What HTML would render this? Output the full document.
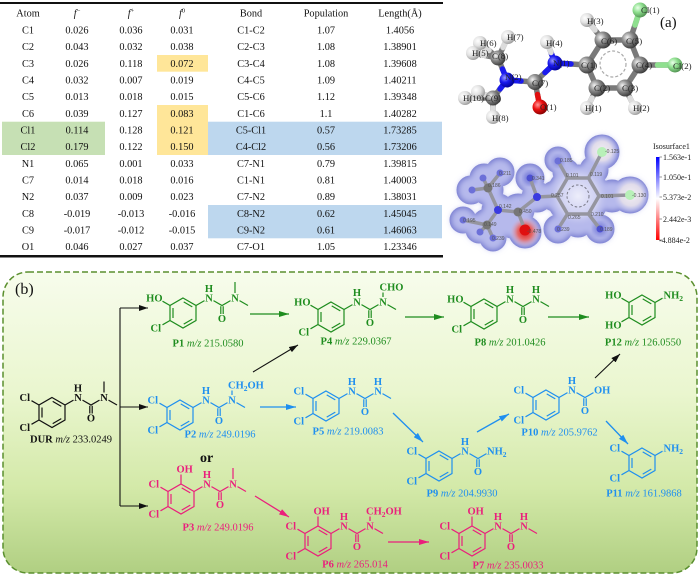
<!DOCTYPE html>
<html><head><meta charset="utf-8">
<style>
html,body{margin:0;padding:0;background:#fff;}
svg{display:block;}
.t text{font-family:"Liberation Serif",serif;font-size:10.3px;fill:#111;}
.mol text{font-family:"Liberation Serif",serif;font-size:10.5px;font-weight:bold;stroke:none;}
.cap{font-family:"Liberation Serif",serif;font-size:10.5px;}
.lab text{font-family:"Liberation Serif",serif;font-size:8.8px;fill:#222;}
.num text{font-family:"Liberation Sans",sans-serif;font-size:5px;fill:#555;}
.cb text{font-family:"Liberation Serif",serif;font-size:8px;fill:#222;}
</style></head><body>
<svg width="700" height="576" viewBox="0 0 700 576" xmlns="http://www.w3.org/2000/svg">
<defs>
<path id="ringp" fill="none" d="M-13,-7.5L0,0L0,15L-13,22.5L-26,15L-26,0Z M-23,2.5V12.5 M-12.3,18.6L-3.7,13.6 M-12.3,-3.6L-3.7,1.4"/>
<path id="ureap" fill="none" d="M0,0L8.5,-4.9 M17.5,-4.9L26,0L34.5,-4.9 M24.8,0.8V8.5 M27.2,0.8V8.5"/>
<marker id="ak" markerWidth="9" markerHeight="6" refX="9" refY="3" orient="auto" markerUnits="userSpaceOnUse"><path d="M0,0L9,3L0,6Z" fill="#111"/></marker>
<marker id="ag" markerWidth="10" markerHeight="6" refX="10" refY="3" orient="auto" markerUnits="userSpaceOnUse"><path d="M0,0L10,3L0,6Z" fill="#1e8c1e"/></marker>
<marker id="ab" markerWidth="10" markerHeight="6" refX="10" refY="3" orient="auto" markerUnits="userSpaceOnUse"><path d="M0,0L10,3L0,6Z" fill="#1f8fef"/></marker>
<marker id="ap" markerWidth="10" markerHeight="6" refX="10" refY="3" orient="auto" markerUnits="userSpaceOnUse"><path d="M0,0L10,3L0,6Z" fill="#ea1f7c"/></marker>
<linearGradient id="bg" x1="0" y1="0" x2="0" y2="1">
<stop offset="0" stop-color="#f7fcec"/><stop offset="0.4" stop-color="#eaf6cf"/><stop offset="0.72" stop-color="#d3e9a8"/><stop offset="1" stop-color="#b0cf82"/>
</linearGradient>
<radialGradient id="gC" cx="0.35" cy="0.35" r="0.7"><stop offset="0" stop-color="#f4f4f4"/><stop offset="0.45" stop-color="#8c8c8c"/><stop offset="1" stop-color="#383838"/></radialGradient>
<radialGradient id="gH" cx="0.35" cy="0.35" r="0.7"><stop offset="0" stop-color="#ffffff"/><stop offset="0.5" stop-color="#e2e2e2"/><stop offset="1" stop-color="#9a9a9a"/></radialGradient>
<radialGradient id="gN" cx="0.35" cy="0.35" r="0.7"><stop offset="0" stop-color="#9a9aff"/><stop offset="0.45" stop-color="#1a1aee"/><stop offset="1" stop-color="#000090"/></radialGradient>
<radialGradient id="gO" cx="0.35" cy="0.35" r="0.7"><stop offset="0" stop-color="#ff9a9a"/><stop offset="0.45" stop-color="#ee1010"/><stop offset="1" stop-color="#800000"/></radialGradient>
<radialGradient id="gCl" cx="0.35" cy="0.35" r="0.7"><stop offset="0" stop-color="#eaffea"/><stop offset="0.45" stop-color="#90e090"/><stop offset="1" stop-color="#4f8f4f"/></radialGradient>
<radialGradient id="wl"><stop offset="0" stop-color="#f3eff3"/><stop offset="0.6" stop-color="#e6e0ea" stop-opacity="0.9"/><stop offset="1" stop-color="#c0c2ee" stop-opacity="0"/></radialGradient>
<radialGradient id="wc"><stop offset="0" stop-color="#ffffff" stop-opacity="0.75"/><stop offset="0.7" stop-color="#e8e8f8" stop-opacity="0.45"/><stop offset="1" stop-color="#c0c2ee" stop-opacity="0"/></radialGradient>
<radialGradient id="rl"><stop offset="0" stop-color="#e01818"/><stop offset="0.5" stop-color="#e46a6a"/><stop offset="1" stop-color="#d8b0d0" stop-opacity="0"/></radialGradient>
<linearGradient id="cbar" x1="0" y1="0" x2="0" y2="1"><stop offset="0" stop-color="#0000ff"/><stop offset="0.5" stop-color="#ffffff"/><stop offset="1" stop-color="#ff0000"/></linearGradient>
<filter id="bl" x="-10%" y="-10%" width="120%" height="120%"><feGaussianBlur stdDeviation="3"/></filter>
<filter id="bl2" x="-10%" y="-10%" width="120%" height="120%"><feGaussianBlur stdDeviation="2"/></filter>
<g id="blob">
<circle cx="500" cy="172" r="13"/><circle cx="484" cy="178" r="13"/><circle cx="471" cy="190" r="13"/><circle cx="488" cy="190" r="14"/><circle cx="498" cy="210" r="15"/><circle cx="518" cy="210" r="15"/><circle cx="537" cy="197" r="14"/><circle cx="530" cy="178" r="13"/><circle cx="487" cy="224" r="14"/><circle cx="463" cy="220" r="12"/><circle cx="479" cy="230" r="12"/><circle cx="493" cy="238" r="12"/><circle cx="512" cy="225" r="12"/><circle cx="525" cy="232" r="15"/>
<circle cx="578" cy="196" r="30"/><circle cx="558" cy="160" r="12"/><circle cx="566" cy="172" r="12"/><circle cx="602" cy="152" r="16"/><circle cx="594" cy="170" r="13"/><circle cx="630" cy="195" r="17"/><circle cx="612" cy="196" r="15"/><circle cx="558" cy="229" r="13"/><circle cx="600" cy="229" r="13"/><circle cx="578" cy="222" r="14"/><circle cx="555" cy="196" r="14"/>
</g>
</defs>

<!-- TABLE -->
<rect x="2" y="121.7" width="103" height="33.3" fill="#c6e0b4"/>
<rect x="157" y="55" width="51" height="16.7" fill="#ffe699"/>
<rect x="157" y="105" width="51" height="50" fill="#ffe699"/>
<rect x="208" y="121.7" width="234" height="33.3" fill="#bdd7ee"/>
<rect x="208" y="205" width="234" height="33.3" fill="#bdd7ee"/>
<rect x="0" y="2" width="443" height="2" fill="#111"/>
<rect x="0" y="255" width="443" height="2.5" fill="#111"/>
<g class="t" text-anchor="middle">
<g transform="translate(0,16.5)"><text x="28">Atom</text><text x="77"><tspan font-style="italic">f</tspan><tspan font-size="6.5" dy="-4">−</tspan></text><text x="131"><tspan font-style="italic">f</tspan><tspan font-size="6.5" dy="-4">+</tspan></text><text x="182"><tspan font-style="italic">f</tspan><tspan font-size="6.5" dy="-4">0</tspan></text><text x="251">Bond</text><text x="326">Population</text><text x="400">Length(Å)</text></g>
<g transform="translate(0,33.5)"><text x="28">C1</text><text x="77">0.026</text><text x="131">0.036</text><text x="182">0.031</text><text x="251">C1-C2</text><text x="326">1.07</text><text x="400">1.4056</text></g>
<g transform="translate(0,50.2)"><text x="28">C2</text><text x="77">0.043</text><text x="131">0.032</text><text x="182">0.038</text><text x="251">C2-C3</text><text x="326">1.08</text><text x="400">1.38901</text></g>
<g transform="translate(0,66.8)"><text x="28">C3</text><text x="77">0.026</text><text x="131">0.118</text><text x="182">0.072</text><text x="251">C3-C4</text><text x="326">1.08</text><text x="400">1.39608</text></g>
<g transform="translate(0,83.5)"><text x="28">C4</text><text x="77">0.032</text><text x="131">0.007</text><text x="182">0.019</text><text x="251">C4-C5</text><text x="326">1.09</text><text x="400">1.40211</text></g>
<g transform="translate(0,100.2)"><text x="28">C5</text><text x="77">0.013</text><text x="131">0.018</text><text x="182">0.015</text><text x="251">C5-C6</text><text x="326">1.12</text><text x="400">1.39348</text></g>
<g transform="translate(0,116.8)"><text x="28">C6</text><text x="77">0.039</text><text x="131">0.127</text><text x="182">0.083</text><text x="251">C1-C6</text><text x="326">1.1</text><text x="400">1.40282</text></g>
<g transform="translate(0,133.5)"><text x="28">Cl1</text><text x="77">0.114</text><text x="131">0.128</text><text x="182">0.121</text><text x="251">C5-Cl1</text><text x="326">0.57</text><text x="400">1.73285</text></g>
<g transform="translate(0,150.2)"><text x="28">Cl2</text><text x="77">0.179</text><text x="131">0.122</text><text x="182">0.150</text><text x="251">C4-Cl2</text><text x="326">0.56</text><text x="400">1.73206</text></g>
<g transform="translate(0,166.8)"><text x="28">N1</text><text x="77">0.065</text><text x="131">0.001</text><text x="182">0.033</text><text x="251">C7-N1</text><text x="326">0.79</text><text x="400">1.39815</text></g>
<g transform="translate(0,183.5)"><text x="28">C7</text><text x="77">0.014</text><text x="131">0.018</text><text x="182">0.016</text><text x="251">C1-N1</text><text x="326">0.81</text><text x="400">1.40003</text></g>
<g transform="translate(0,200.2)"><text x="28">N2</text><text x="77">0.037</text><text x="131">0.009</text><text x="182">0.023</text><text x="251">C7-N2</text><text x="326">0.89</text><text x="400">1.38031</text></g>
<g transform="translate(0,216.8)"><text x="28">C8</text><text x="77">-0.019</text><text x="131">-0.013</text><text x="182">-0.016</text><text x="251">C8-N2</text><text x="326">0.62</text><text x="400">1.45045</text></g>
<g transform="translate(0,233.5)"><text x="28">C9</text><text x="77">-0.017</text><text x="131">-0.012</text><text x="182">-0.015</text><text x="251">C9-N2</text><text x="326">0.61</text><text x="400">1.46063</text></g>
<g transform="translate(0,250.2)"><text x="28">O1</text><text x="77">0.046</text><text x="131">0.027</text><text x="182">0.037</text><text x="251">C7-O1</text><text x="326">1.05</text><text x="400">1.23346</text></g>
</g>

<!-- 3D BALL & STICK -->
<g stroke-linecap="round" fill="none" stroke-width="5.5">
<path stroke="#7a7a7a" d="M603,40L630,40L640,65L625,88L597,88L587,65Z M630,40L640,10 M640,65L675,65 M603,40L587,20 M597,88L587,108 M625,88L635,108 M587,65L555,63 M555,63L547,42 M555,63L535,82 M535,82L540,107 M535,82L507,80 M507,80L498,58 M507,80L493,98 M498,58L480,43 M498,58L508,37 M498,58L473,53 M493,98L465,98 M493,98L493,117 M493,98L478,92"/>
<path stroke="#8fe08f" d="M635,25L640,10 M657.5,65L675,65"/>
<path stroke="#1a1aee" d="M571,64L555,63L551,52.5 M555,63L545,72.5 M521,81L507,80L502.5,69 M507,80L500,89"/>
<path stroke="#e01010" d="M537.5,94.5L540,107"/>
<path stroke="#dcdcdc" d="M595,30L587,20 M592,98L587,108 M630,98L635,108 M551,52.5L547,42 M489,50.5L480,43 M503,47.5L508,37 M485.5,55.5L473,53 M479,98L465,98 M493,107.5L493,117 M485.5,95L478,92"/>
</g>
<circle cx="613" cy="64" r="13" fill="none" stroke="#aaa" stroke-width="1.2" stroke-dasharray="3,2"/>
<g>
<circle cx="478" cy="92" r="7" fill="url(#gH)"/>
<circle cx="480" cy="43" r="7" fill="url(#gH)"/><circle cx="508" cy="37" r="7" fill="url(#gH)"/><circle cx="473" cy="53" r="7" fill="url(#gH)"/>
<circle cx="465" cy="98" r="7" fill="url(#gH)"/><circle cx="493" cy="117" r="7" fill="url(#gH)"/>
<circle cx="587" cy="20" r="7" fill="url(#gH)"/><circle cx="587" cy="108" r="7" fill="url(#gH)"/><circle cx="635" cy="108" r="7" fill="url(#gH)"/><circle cx="547" cy="42" r="7" fill="url(#gH)"/>
<circle cx="498" cy="58" r="7.5" fill="url(#gC)"/><circle cx="493" cy="98" r="7.5" fill="url(#gC)"/>
<circle cx="507" cy="80" r="7.5" fill="url(#gN)"/><circle cx="535" cy="82" r="8" fill="url(#gC)"/>
<circle cx="540" cy="107" r="7.5" fill="url(#gO)"/><circle cx="555" cy="63" r="7.5" fill="url(#gN)"/>
<circle cx="603" cy="40" r="8.5" fill="url(#gC)"/><circle cx="630" cy="40" r="8.5" fill="url(#gC)"/><circle cx="640" cy="65" r="8.5" fill="url(#gC)"/><circle cx="625" cy="88" r="8.5" fill="url(#gC)"/><circle cx="597" cy="88" r="8.5" fill="url(#gC)"/><circle cx="587" cy="65" r="8.5" fill="url(#gC)"/>
<circle cx="640" cy="10" r="7.5" fill="url(#gCl)"/><circle cx="675" cy="65" r="7.5" fill="url(#gCl)"/>
</g>
<g class="lab">
<text x="641" y="13">Cl(1)</text><text x="587" y="24">H(3)</text><text x="601" y="44">C(6)</text><text x="626" y="44">C(5)</text>
<text x="546" y="46">H(4)</text><text x="553" y="66">N(1)</text><text x="581" y="68">C(1)</text><text x="636" y="68">C(4)</text><text x="673" y="69">Cl(2)</text>
<text x="480" y="46">H(6)</text><text x="507" y="40">H(7)</text><text x="472" y="56">H(5)</text><text x="492" y="59">C(8)</text>
<text x="505" y="80">N(2)</text><text x="532" y="86">C(7)</text><text x="463" y="101">H(10)</text><text x="485" y="101">C(9)</text>
<text x="540" y="110">O(1)</text><text x="594" y="91">C(2)</text><text x="622" y="91">C(3)</text><text x="585" y="111">H(1)</text><text x="633" y="111">H(2)</text><text x="492" y="121">H(8)</text>
</g>
<text x="660" y="27" font-family="Liberation Serif, serif" font-size="15" fill="#111">(a)</text>

<!-- ESP MAP -->
<use href="#blob" fill="#6f74cc" stroke="#6f74cc" stroke-width="3"/>
<use href="#blob" fill="#b6b9ec" filter="url(#bl)"/>
<circle cx="578" cy="196" r="30" fill="url(#wc)"/>
<circle cx="602" cy="151" r="16" fill="url(#wl)"/>
<circle cx="631" cy="195" r="18" fill="url(#wl)"/>
<circle cx="525" cy="232" r="15" fill="url(#rl)"/>
<circle cx="530" cy="178" r="7" fill="#5a60d0" opacity="0.6" filter="url(#bl2)"/>
<circle cx="600" cy="229" r="7" fill="#5a60d0" opacity="0.5" filter="url(#bl2)"/>
<circle cx="558" cy="161" r="6" fill="#6a70d4" opacity="0.5" filter="url(#bl2)"/>
<g stroke="#95959f" stroke-width="3.5" stroke-linecap="round" fill="none">
<path d="M557,196L567.5,178L588.5,178L599,196L588.5,214L567.5,214Z M588.5,178L602,152 M599,196L630,195 M567.5,178L558,161 M557,196L537,197 M567.5,214L558,229 M588.5,214L600,229 M537,197L530,178 M537,197L518,212 M518,212L525,230 M518,212L498,210 M498,210L488,188 M498,210L487,225 M488,188L500,173 M488,188L483,178 M488,188L472,190 M487,225L463,220 M487,225L480,232 M487,225L493,238"/>
</g>
<circle cx="578" cy="196" r="11" fill="none" stroke="#7a7a88" stroke-width="1" stroke-dasharray="2.5,2"/>
<g>
<circle cx="602" cy="152" r="5" fill="#b8f0b8"/><circle cx="630" cy="195" r="5" fill="#b8f0b8"/>
<circle cx="525" cy="230" r="5.5" fill="#e01010"/>
<circle cx="537" cy="197" r="4" fill="#3a3ae0"/><circle cx="498" cy="210" r="4" fill="#3a3ae0"/>
<circle cx="518" cy="212" r="4.5" fill="#777"/><circle cx="488" cy="188" r="4.5" fill="#777"/><circle cx="487" cy="225" r="4.5" fill="#777"/>
<circle cx="558" cy="161" r="3.5" fill="#6c70d8"/><circle cx="558" cy="229" r="3.5" fill="#6c70d8"/><circle cx="600" cy="229" r="3.5" fill="#4c50d0"/><circle cx="530" cy="178" r="3.5" fill="#4c50d0"/>
<circle cx="500" cy="173" r="3.5" fill="#6c70d8"/><circle cx="483" cy="178" r="3.5" fill="#6c70d8"/><circle cx="472" cy="190" r="3.5" fill="#6c70d8"/><circle cx="463" cy="220" r="3.5" fill="#6c70d8"/><circle cx="480" cy="232" r="3.5" fill="#6c70d8"/><circle cx="493" cy="238" r="3.5" fill="#6c70d8"/>
</g>
<g class="num">
<text x="605" y="153">-0.125</text><text x="560" y="162">0.185</text><text x="566" y="177">0.101</text><text x="590" y="176">0.119</text><text x="601" y="198">0.101</text><text x="632" y="197">-0.130</text><text x="551" y="197">0.257</text><text x="568" y="219">0.265</text><text x="591" y="216">0.210</text><text x="557" y="231">0.239</text><text x="600" y="231">0.189</text><text x="532" y="180">0.341</text><text x="499" y="175">0.211</text><text x="488" y="187">0.186</text><text x="463" y="222">0.195</text><text x="492" y="240">0.239</text><text x="527" y="233">-0.478</text><text x="519" y="213">0.450</text><text x="499" y="208">0.142</text><text x="484" y="226">0.149</text>
</g>
<!-- color bar -->
<rect x="656" y="157" width="3.5" height="83" fill="url(#cbar)"/>
<g stroke="#333" stroke-width="0.6"><path d="M659.5,157H662M659.5,177H662M659.5,197H662M659.5,219H662M659.5,240H662"/></g>
<g class="cb">
<text x="653" y="149">Isosurface1</text>
<text x="663" y="160">1.563e-1</text>
<text x="663" y="180">1.050e-1</text>
<text x="663" y="200">5.373e-2</text>
<text x="663" y="222">2.442e-3</text>
<text x="659" y="243">-4.884e-2</text>
</g>

<!-- PANEL (b) -->
<rect x="3" y="272" width="694" height="301" rx="25" ry="25" fill="url(#bg)" stroke="#5a8f2e" stroke-width="1.5" stroke-dasharray="6,3"/>
<text x="15" y="294" font-family="Liberation Serif, serif" font-size="16" fill="#111">(b)</text>

<!-- branch lines -->
<g stroke="#111" stroke-width="1.1" fill="none">
<path d="M120,308V506"/>
<line x1="120" y1="308" x2="148" y2="308" marker-end="url(#ak)"/>
<line x1="120" y1="407" x2="148" y2="407" marker-end="url(#ak)"/>
<line x1="120" y1="506" x2="148" y2="506" marker-end="url(#ak)"/>
<line x1="253" y1="372" x2="298" y2="345" marker-end="url(#ak)"/>
<line x1="595" y1="378" x2="620" y2="354" marker-end="url(#ak)"/>
</g>
<g stroke="#1e8c1e" stroke-width="1.3" fill="none">
<line x1="250" y1="314" x2="289" y2="314" marker-end="url(#ag)"/>
<line x1="405" y1="317" x2="444" y2="317" marker-end="url(#ag)"/>
<line x1="548" y1="317" x2="589" y2="317" marker-end="url(#ag)"/>
</g>
<g stroke="#1f8fef" stroke-width="1.3" fill="none">
<line x1="260" y1="407" x2="296" y2="407" marker-end="url(#ab)"/>
<line x1="393" y1="413" x2="423" y2="442" marker-end="url(#ab)"/>
<line x1="477" y1="432" x2="509" y2="414" marker-end="url(#ab)"/>
<line x1="606" y1="421" x2="628" y2="444" marker-end="url(#ab)"/>
</g>
<g stroke="#ea1f7c" stroke-width="1.3" fill="none">
<line x1="255" y1="496" x2="289" y2="517" marker-end="url(#ap)"/>
<line x1="388" y1="542" x2="429" y2="542" marker-end="url(#ap)"/>
</g>

<!-- DUR -->
<g class="mol" transform="translate(65,405)" stroke="#111" fill="#111" stroke-width="1.2" text-anchor="middle">
<use href="#ringp"/><use href="#ureap"/>
<path fill="none" d="M-26,0L-33.5,-4.3M-26,15L-33.5,19.3M39,-12.5V-23.5M43.5,-4.9L52,0"/>
<text x="-35" y="-3.8" text-anchor="end">Cl</text><text x="-35" y="26.2" text-anchor="end">Cl</text>
<text x="13" y="-3.8">N</text><text x="13" y="-13.5">H</text><text x="26" y="16.7">O</text><text x="39" y="-3.8">N</text>
</g>
<text class="cap" x="71" y="442.5" text-anchor="middle" fill="#111"><tspan font-weight="bold">DUR</tspan> <tspan font-style="italic">m/z</tspan> 233.0249</text>

<!-- P1 -->
<g class="mol" transform="translate(196,305.5)" stroke="#1e8c1e" fill="#1e8c1e" stroke-width="1.2" text-anchor="middle">
<use href="#ringp"/><use href="#ureap"/>
<path fill="none" d="M-26,0L-33.5,-4.3M-26,15L-33.5,19.3M39,-12.5V-23.5M43.5,-4.9L52,0"/>
<text x="-33.5" y="-3.8" text-anchor="end">HO</text><text x="-35" y="26.2" text-anchor="end">Cl</text>
<text x="13" y="-3.8">N</text><text x="13" y="-13.5">H</text><text x="26" y="16.7">O</text><text x="39" y="-3.8">N</text>
</g>
<text class="cap" x="208" y="346.5" text-anchor="middle" fill="#1e8c1e"><tspan font-weight="bold">P1</tspan> <tspan font-style="italic">m/z</tspan> 215.0580</text>

<!-- P4 -->
<g class="mol" transform="translate(344,309.5)" stroke="#1e8c1e" fill="#1e8c1e" stroke-width="1.2" text-anchor="middle">
<use href="#ringp"/><use href="#ureap"/>
<path fill="none" d="M-26,0L-33.5,-4.3M-26,15L-33.5,19.3M39,-12.5V-17M43.5,-4.9L52,0"/>
<text x="-33.5" y="-3.8" text-anchor="end">HO</text><text x="-35" y="26.2" text-anchor="end">Cl</text>
<text x="13" y="-3.8">N</text><text x="13" y="-13.5">H</text><text x="26" y="16.7">O</text><text x="39" y="-3.8">N</text>
<text x="35.5" y="-18.8" text-anchor="start">CHO</text>
</g>
<text class="cap" x="356" y="344.5" text-anchor="middle" fill="#1e8c1e"><tspan font-weight="bold">P4</tspan> <tspan font-style="italic">m/z</tspan> 229.0367</text>

<!-- P8 -->
<g class="mol" transform="translate(497,306.5)" stroke="#1e8c1e" fill="#1e8c1e" stroke-width="1.2" text-anchor="middle">
<use href="#ringp"/><use href="#ureap"/>
<path fill="none" d="M-26,0L-33.5,-4.3M-26,15L-33.5,19.3M43.5,-4.9L52,0"/>
<text x="-33.5" y="-3.8" text-anchor="end">HO</text><text x="-35" y="26.2" text-anchor="end">Cl</text>
<text x="13" y="-3.8">N</text><text x="13" y="-13.5">H</text><text x="26" y="16.7">O</text><text x="39" y="-3.8">N</text><text x="39" y="-13.5">H</text>
</g>
<text class="cap" x="510" y="345.5" text-anchor="middle" fill="#1e8c1e"><tspan font-weight="bold">P8</tspan> <tspan font-style="italic">m/z</tspan> 201.0426</text>

<!-- P12 -->
<g class="mol" transform="translate(655,302.5)" stroke="#1e8c1e" fill="#1e8c1e" stroke-width="1.2" text-anchor="middle">
<use href="#ringp"/>
<path fill="none" d="M-26,0L-33.5,-4.3M-26,15L-33.5,19.3M0,0L7.5,-4.3"/>
<text x="-33.5" y="-3.8" text-anchor="end">HO</text><text x="-33.5" y="26.2" text-anchor="end">HO</text>
<text x="8.5" y="-3.8" text-anchor="start">NH<tspan font-size="7.5" dy="2.5">2</tspan></text>
</g>
<text class="cap" x="643" y="345.5" text-anchor="middle" fill="#1e8c1e"><tspan font-weight="bold">P12</tspan> <tspan font-style="italic">m/z</tspan> 126.0550</text>

<!-- P2 -->
<g class="mol" transform="translate(193,407.5)" stroke="#1f8fef" fill="#1f8fef" stroke-width="1.2" text-anchor="middle">
<use href="#ringp"/><use href="#ureap"/>
<path fill="none" d="M-26,0L-33.5,-4.3M-26,15L-33.5,19.3M39,-12.5V-17M43.5,-4.9L52,0"/>
<text x="-35" y="-3.8" text-anchor="end">Cl</text><text x="-35" y="26.2" text-anchor="end">Cl</text>
<text x="13" y="-3.8">N</text><text x="13" y="-13.5">H</text><text x="26" y="16.7">O</text><text x="39" y="-3.8">N</text>
<text x="35" y="-18.8" text-anchor="start">CH<tspan font-size="7.5" dy="2.5">2</tspan><tspan dy="-2.5">OH</tspan></text>
</g>
<text class="cap" x="220" y="437.5" text-anchor="middle" fill="#1f8fef"><tspan font-weight="bold">P2</tspan> <tspan font-style="italic">m/z</tspan> 249.0196</text>

<!-- P5 -->
<g class="mol" transform="translate(339,398.5)" stroke="#1f8fef" fill="#1f8fef" stroke-width="1.2" text-anchor="middle">
<use href="#ringp"/><use href="#ureap"/>
<path fill="none" d="M-26,0L-33.5,-4.3M-26,15L-33.5,19.3M43.5,-4.9L52,0"/>
<text x="-35" y="-3.8" text-anchor="end">Cl</text><text x="-35" y="26.2" text-anchor="end">Cl</text>
<text x="13" y="-3.8">N</text><text x="13" y="-13.5">H</text><text x="26" y="16.7">O</text><text x="39" y="-3.8">N</text><text x="39" y="-13.5">H</text>
</g>
<text class="cap" x="348" y="434.5" text-anchor="middle" fill="#1f8fef"><tspan font-weight="bold">P5</tspan> <tspan font-style="italic">m/z</tspan> 219.0083</text>

<!-- P9 -->
<g class="mol" transform="translate(452,458.5)" stroke="#1f8fef" fill="#1f8fef" stroke-width="1.2" text-anchor="middle">
<use href="#ringp"/><use href="#ureap"/>
<path fill="none" d="M-26,0L-33.5,-4.3M-26,15L-33.5,19.3"/>
<text x="-35" y="-3.8" text-anchor="end">Cl</text><text x="-35" y="26.2" text-anchor="end">Cl</text>
<text x="13" y="-3.8">N</text><text x="13" y="-13.5">H</text><text x="26" y="16.7">O</text>
<text x="35" y="-3.8" text-anchor="start">NH<tspan font-size="7.5" dy="2.5">2</tspan></text>
</g>
<text class="cap" x="462" y="496.5" text-anchor="middle" fill="#1f8fef"><tspan font-weight="bold">P9</tspan> <tspan font-style="italic">m/z</tspan> 204.9930</text>

<!-- P10 -->
<g class="mol" transform="translate(559,397.5)" stroke="#1f8fef" fill="#1f8fef" stroke-width="1.2" text-anchor="middle">
<use href="#ringp"/><use href="#ureap"/>
<path fill="none" d="M-26,0L-33.5,-4.3M-26,15L-33.5,19.3"/>
<text x="-35" y="-3.8" text-anchor="end">Cl</text><text x="-35" y="26.2" text-anchor="end">Cl</text>
<text x="13" y="-3.8">N</text><text x="13" y="-13.5">H</text><text x="26" y="16.7">O</text>
<text x="35" y="-3.8" text-anchor="start">OH</text>
</g>
<text class="cap" x="559.5" y="435.5" text-anchor="middle" fill="#1f8fef"><tspan font-weight="bold">P10</tspan> <tspan font-style="italic">m/z</tspan> 205.9762</text>

<!-- P11 -->
<g class="mol" transform="translate(655,455.5)" stroke="#1f8fef" fill="#1f8fef" stroke-width="1.2" text-anchor="middle">
<use href="#ringp"/>
<path fill="none" d="M-26,0L-33.5,-4.3M-26,15L-33.5,19.3M0,0L7.5,-4.3"/>
<text x="-35" y="-3.8" text-anchor="end">Cl</text><text x="-35" y="26.2" text-anchor="end">Cl</text>
<text x="8.5" y="-3.8" text-anchor="start">NH<tspan font-size="7.5" dy="2.5">2</tspan></text>
</g>
<text class="cap" x="644" y="496.5" text-anchor="middle" fill="#1f8fef"><tspan font-weight="bold">P11</tspan> <tspan font-style="italic">m/z</tspan> 161.9868</text>

<!-- or -->
<text x="200" y="462" font-family="Liberation Serif, serif" font-size="14" font-weight="bold" fill="#111">or</text>

<!-- P3 -->
<g class="mol" transform="translate(194,491.5)" stroke="#ea1f7c" fill="#ea1f7c" stroke-width="1.2" text-anchor="middle">
<use href="#ringp"/><use href="#ureap"/>
<path fill="none" d="M-13,-7.5V-17M-26,0L-33.5,-4.3M-26,15L-33.5,19.3M39,-12.5V-23.5M43.5,-4.9L52,0"/>
<text x="-17.5" y="-18.8" text-anchor="start">OH</text>
<text x="-35" y="-3.8" text-anchor="end">Cl</text><text x="-35" y="26.2" text-anchor="end">Cl</text>
<text x="13" y="-3.8">N</text><text x="13" y="-13.5">H</text><text x="26" y="16.7">O</text><text x="39" y="-3.8">N</text>
</g>
<text class="cap" x="218" y="530.5" text-anchor="middle" fill="#ea1f7c"><tspan font-weight="bold">P3</tspan> <tspan font-style="italic">m/z</tspan> 249.0196</text>

<!-- P6 -->
<g class="mol" transform="translate(331,533.5)" stroke="#ea1f7c" fill="#ea1f7c" stroke-width="1.2" text-anchor="middle">
<use href="#ringp"/><use href="#ureap"/>
<path fill="none" d="M-13,-7.5V-17M-26,0L-33.5,-4.3M-26,15L-33.5,19.3M39,-12.5V-17M43.5,-4.9L52,0"/>
<text x="-17.5" y="-18.8" text-anchor="start">OH</text>
<text x="-35" y="-3.8" text-anchor="end">Cl</text><text x="-35" y="26.2" text-anchor="end">Cl</text>
<text x="13" y="-3.8">N</text><text x="13" y="-13.5">H</text><text x="26" y="16.7">O</text><text x="39" y="-3.8">N</text>
<text x="35" y="-18.8" text-anchor="start">CH<tspan font-size="7.5" dy="2.5">2</tspan><tspan dy="-2.5">OH</tspan></text>
</g>
<text class="cap" x="355" y="567.5" text-anchor="middle" fill="#ea1f7c"><tspan font-weight="bold">P6</tspan> <tspan font-style="italic">m/z</tspan> 265.014</text>

<!-- P7 -->
<g class="mol" transform="translate(485,533.5)" stroke="#ea1f7c" fill="#ea1f7c" stroke-width="1.2" text-anchor="middle">
<use href="#ringp"/><use href="#ureap"/>
<path fill="none" d="M-13,-7.5V-17M-26,0L-33.5,-4.3M-26,15L-33.5,19.3M43.5,-4.9L52,0"/>
<text x="-17.5" y="-18.8" text-anchor="start">OH</text>
<text x="-35" y="-3.8" text-anchor="end">Cl</text><text x="-35" y="26.2" text-anchor="end">Cl</text>
<text x="13" y="-3.8">N</text><text x="13" y="-13.5">H</text><text x="26" y="16.7">O</text><text x="39" y="-3.8">N</text><text x="39" y="-13.5">H</text>
</g>
<text class="cap" x="508" y="568.5" text-anchor="middle" fill="#ea1f7c"><tspan font-weight="bold">P7</tspan> <tspan font-style="italic">m/z</tspan> 235.0033</text>
</svg>
</body></html>
